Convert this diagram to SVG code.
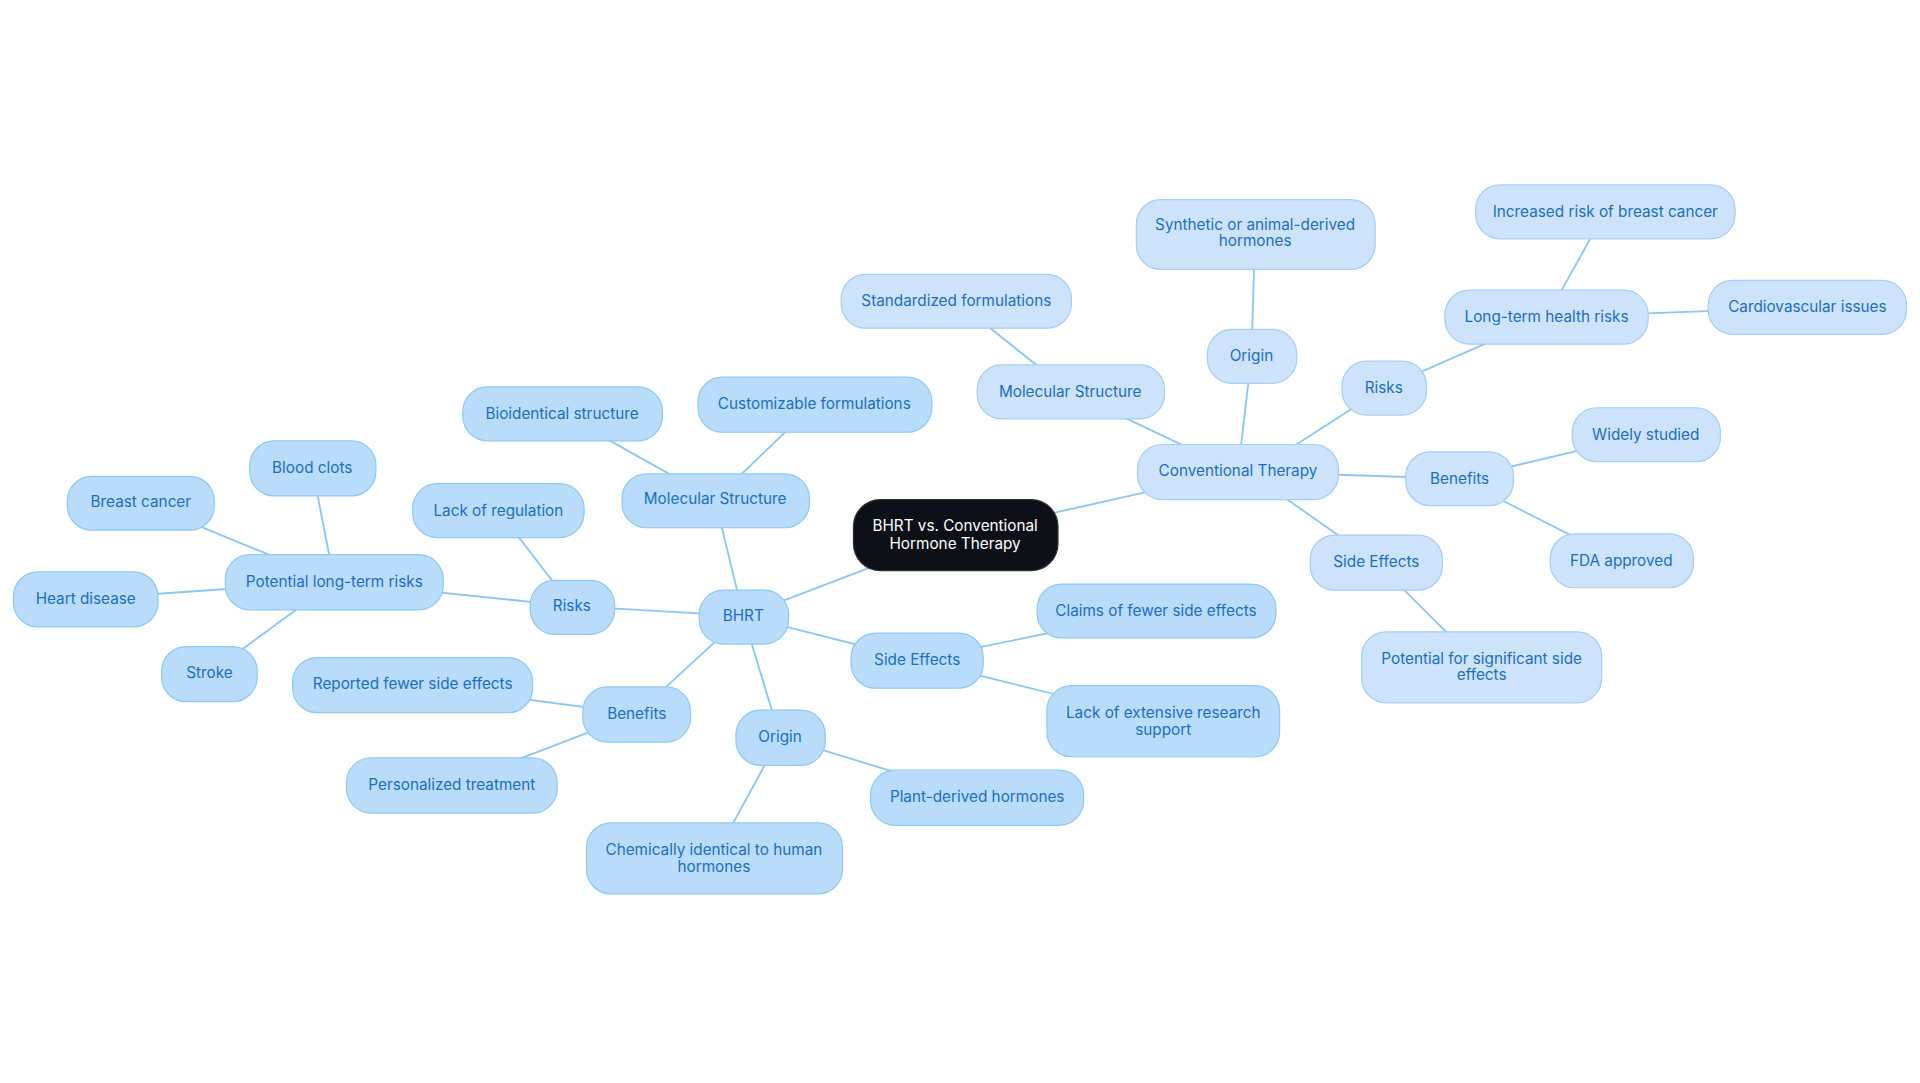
<svg xmlns="http://www.w3.org/2000/svg" width="1920" height="1083" viewBox="0 0 1920 1083">
<style>
.a rect{fill:#b8dcfa;stroke:#8ec9f4;stroke-width:1}
.b rect{fill:#cde3fb;stroke:#a6cdf5;stroke-width:1}
text{font-family:Inter,"Liberation Sans",sans-serif;font-size:12.5px;fill:#1b6ec2;text-anchor:middle}
#c rect{fill:#0d1117;stroke:#2a2f36}
#c text{fill:#fff}
#e line{stroke:#8cc6f2;stroke-width:1.5}
</style>
<rect width="1920" height="1083" fill="#fff"/>
<g transform="scale(1.2245)">
<g id="e">
<line x1="780" y1="437" x2="607" y2="503"/><line x1="780" y1="437" x2="1011" y2="385"/>
<line x1="607" y1="503" x2="584" y2="408"/><line x1="584" y1="408" x2="665" y2="330"/><line x1="584" y1="408" x2="459" y2="338"/>
<line x1="607" y1="503" x2="467" y2="495"/><line x1="467" y1="495" x2="407" y2="417"/><line x1="467" y1="495" x2="273" y2="475"/>
<line x1="273" y1="475" x2="255" y2="382"/><line x1="273" y1="475" x2="115" y2="410"/><line x1="273" y1="475" x2="70" y2="489"/><line x1="273" y1="475" x2="171" y2="550"/>
<line x1="607" y1="503" x2="520" y2="583"/><line x1="520" y1="583" x2="337" y2="559"/><line x1="520" y1="583" x2="369" y2="641"/>
<line x1="607" y1="503" x2="637" y2="602"/><line x1="637" y1="602" x2="798" y2="651"/><line x1="637" y1="602" x2="583" y2="701"/>
<line x1="607" y1="503" x2="749" y2="539"/><line x1="749" y1="539" x2="944" y2="499"/><line x1="749" y1="539" x2="950" y2="589"/>
<line x1="1011" y1="385" x2="874" y2="320"/><line x1="874" y1="320" x2="781" y2="246"/>
<line x1="1011" y1="385" x2="1022" y2="291"/><line x1="1022" y1="291" x2="1025" y2="191"/>
<line x1="1040" y1="375" x2="1130" y2="317"/><line x1="1130" y1="317" x2="1263" y2="259"/><line x1="1263" y1="259" x2="1311" y2="173"/><line x1="1263" y1="259" x2="1476" y2="251"/>
<line x1="1011" y1="385" x2="1192" y2="391"/><line x1="1192" y1="391" x2="1344" y2="355"/><line x1="1192" y1="391" x2="1324" y2="458"/>
<line x1="1040" y1="400" x2="1124" y2="459"/><line x1="1124" y1="459" x2="1210" y2="545"/>
</g>
<g id="c"><rect x="697" y="408" width="167" height="58" rx="22"/><text x="780" y="434">BHRT vs. Conventional</text><text x="780" y="448">Hormone Therapy</text></g>
<g id="n1" class="a"><rect x="571" y="482" width="73" height="44" rx="20"/><text x="607" y="507">BHRT</text></g>
<g id="n2" class="a"><rect x="508" y="387" width="153" height="44" rx="20"/><text x="584" y="412">Molecular Structure</text></g>
<g id="n3" class="a"><rect x="570" y="308" width="191" height="45" rx="20"/><text x="665" y="334">Customizable formulations</text></g>
<g id="n4" class="a"><rect x="378" y="316" width="163" height="44" rx="20"/><text x="459" y="342">Bioidentical structure</text></g>
<g id="n5" class="a"><rect x="433" y="474" width="69" height="44" rx="20"/><text x="467" y="499">Risks</text></g>
<g id="n6" class="a"><rect x="337" y="395" width="140" height="44" rx="20"/><text x="407" y="421">Lack of regulation</text></g>
<g id="n7" class="a"><rect x="184" y="453" width="178" height="45" rx="20"/><text x="273" y="479">Potential long-term risks</text></g>
<g id="n8" class="a"><rect x="204" y="360" width="103" height="45" rx="20"/><text x="255" y="386">Blood clots</text></g>
<g id="n9" class="a"><rect x="55" y="389" width="120" height="44" rx="20"/><text x="115" y="414">Breast cancer</text></g>
<g id="n10" class="a"><rect x="11" y="467" width="118" height="45" rx="20"/><text x="70" y="493">Heart disease</text></g>
<g id="n11" class="a"><rect x="132" y="528" width="78" height="45" rx="20"/><text x="171" y="554">Stroke</text></g>
<g id="n12" class="a"><rect x="476" y="561" width="88" height="45" rx="20"/><text x="520" y="587">Benefits</text></g>
<g id="n13" class="a"><rect x="239" y="537" width="196" height="45" rx="20"/><text x="337" y="563">Reported fewer side effects</text></g>
<g id="n14" class="a"><rect x="283" y="619" width="172" height="45" rx="20"/><text x="369" y="645">Personalized treatment</text></g>
<g id="n15" class="a"><rect x="601" y="580" width="73" height="45" rx="20"/><text x="637" y="606">Origin</text></g>
<g id="n16" class="a"><rect x="711" y="629" width="174" height="45" rx="20"/><text x="798" y="655">Plant-derived hormones</text></g>
<g id="n17" class="a"><rect x="479" y="672" width="209" height="58" rx="20"/><text x="583" y="698">Chemically identical to human</text><text x="583" y="712">hormones</text></g>
<g id="n18" class="a"><rect x="695" y="517" width="108" height="45" rx="20"/><text x="749" y="543">Side Effects</text></g>
<g id="n19" class="a"><rect x="847" y="477" width="195" height="44" rx="20"/><text x="944" y="503">Claims of fewer side effects</text></g>
<g id="n20" class="a"><rect x="855" y="560" width="190" height="58" rx="20"/><text x="950" y="586">Lack of extensive research</text><text x="950" y="600">support</text></g>
<g id="m1" class="b"><rect x="929" y="363" width="164" height="45" rx="20"/><text x="1011" y="389">Conventional Therapy</text></g>
<g id="m2" class="b"><rect x="798" y="298" width="153" height="44" rx="20"/><text x="874" y="324">Molecular Structure</text></g>
<g id="m3" class="b"><rect x="687" y="224" width="188" height="44" rx="20"/><text x="781" y="250">Standardized formulations</text></g>
<g id="m4" class="b"><rect x="986" y="269" width="73" height="44" rx="20"/><text x="1022" y="295">Origin</text></g>
<g id="m5" class="b"><rect x="928" y="163" width="195" height="57" rx="20"/><text x="1025" y="188">Synthetic or animal-derived</text><text x="1025" y="201">hormones</text></g>
<g id="m6" class="b"><rect x="1096" y="295" width="69" height="44" rx="20"/><text x="1130" y="321">Risks</text></g>
<g id="m7" class="b"><rect x="1180" y="237" width="166" height="44" rx="20"/><text x="1263" y="263">Long-term health risks</text></g>
<g id="m8" class="b"><rect x="1205" y="151" width="212" height="44" rx="20"/><text x="1311" y="177">Increased risk of breast cancer</text></g>
<g id="m9" class="b"><rect x="1395" y="229" width="162" height="44" rx="20"/><text x="1476" y="255">Cardiovascular issues</text></g>
<g id="m10" class="b"><rect x="1148" y="369" width="88" height="44" rx="20"/><text x="1192" y="395">Benefits</text></g>
<g id="m11" class="b"><rect x="1284" y="333" width="121" height="44" rx="20"/><text x="1344" y="359">Widely studied</text></g>
<g id="m12" class="b"><rect x="1266" y="436" width="117" height="44" rx="20"/><text x="1324" y="462">FDA approved</text></g>
<g id="m13" class="b"><rect x="1070" y="437" width="108" height="45" rx="20"/><text x="1124" y="463">Side Effects</text></g>
<g id="m14" class="b"><rect x="1112" y="516" width="196" height="58" rx="20"/><text x="1210" y="542">Potential for significant side</text><text x="1210" y="555">effects</text></g>
</g>
</svg>
